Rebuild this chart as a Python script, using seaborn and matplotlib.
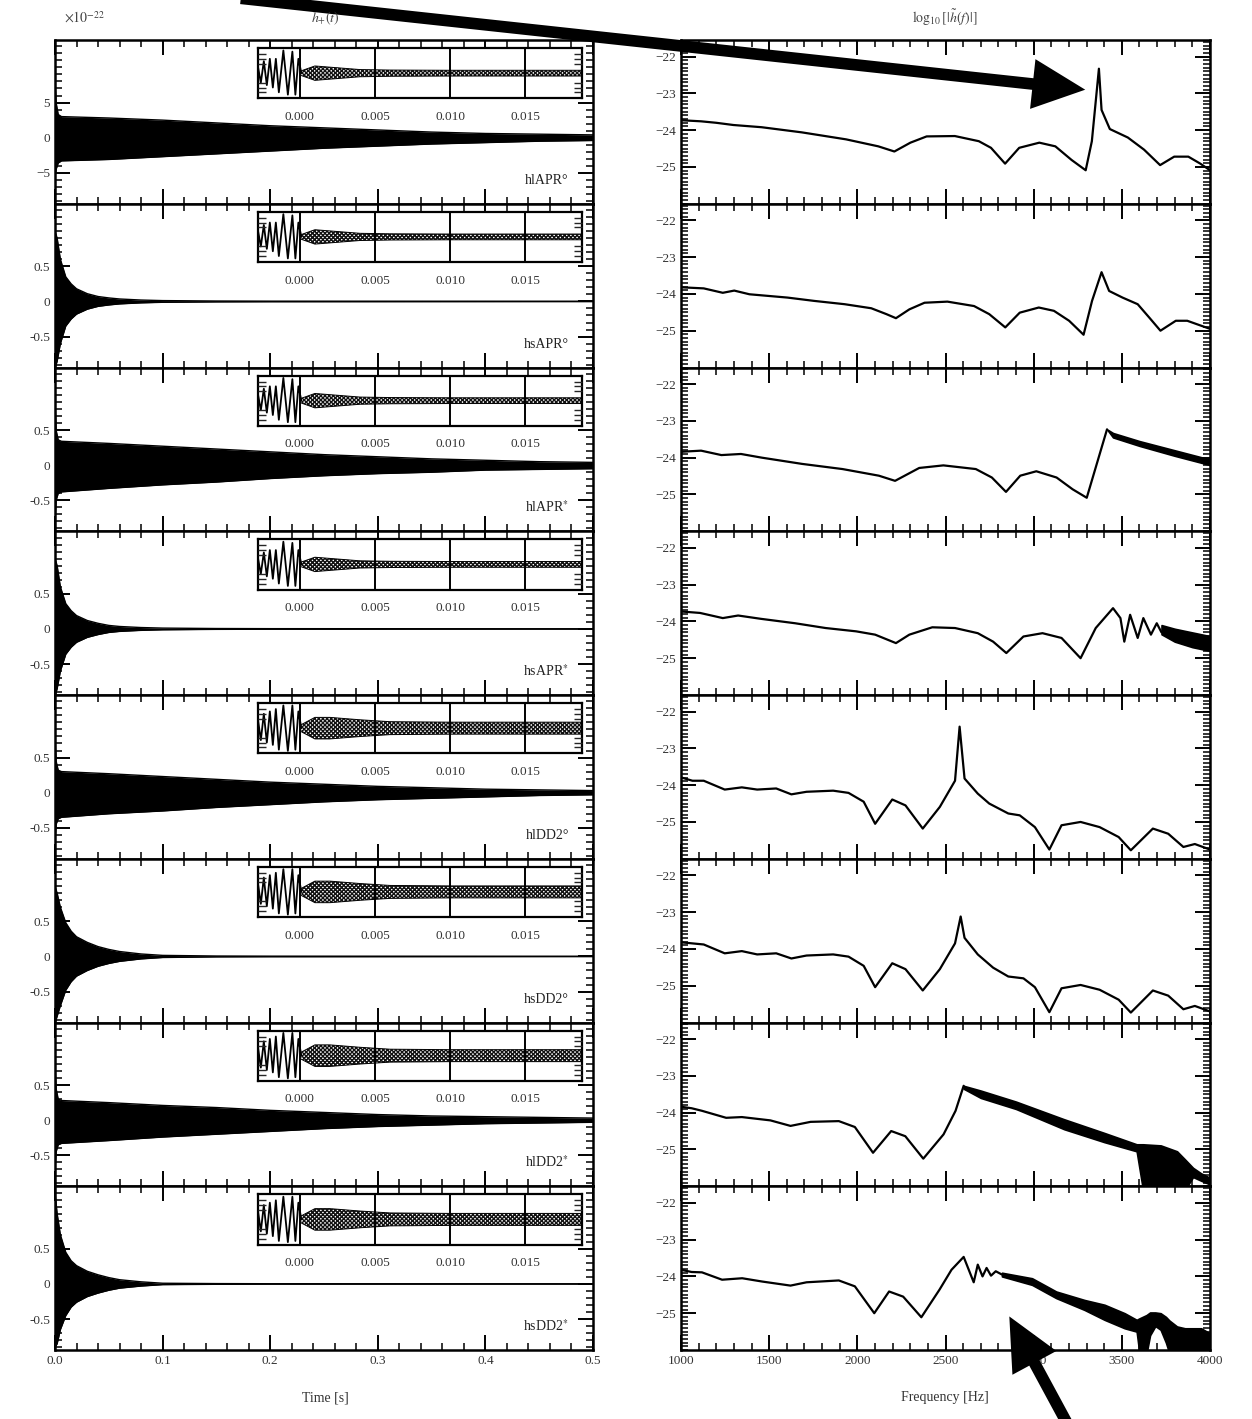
import numpy as np
import pandas as pd
import matplotlib
matplotlib.use("Agg")
import matplotlib.pyplot as plt
import seaborn as sns
from matplotlib.ticker import MultipleLocator, FixedLocator
from matplotlib.patches import FancyArrowPatch

# ---------------- data ----------------
labels = ["hlAPR°", "hsAPR°", "hlAPR$^{*}$", "hsAPR$^{*}$",
          "hlDD2°", "hsDD2°", "hlDD2$^{*}$", "hsDD2$^{*}$"]

time_ticks = [0.0, 0.1, 0.2, 0.3, 0.4, 0.5]
time_ticklabels = ["0.0", "0.1", "0.2", "0.3", "0.4", "0.5"]
freq_ticks = [1000, 1500, 2000, 2500, 3000, 3500, 4000]
freq_ticklabels = ["1000", "1500", "2000", "2500", "3000", "3500", "4000"]

# time-domain envelopes (units of 1e-21)
t_long = [0, 0.001, 0.003, 0.006, 0.05, 0.1, 0.15, 0.2, 0.25, 0.3, 0.35, 0.4, 0.45, 0.5]
t_short = [0, 0.002, 0.005, 0.01, 0.015, 0.02, 0.03, 0.04, 0.05, 0.06, 0.08, 0.1, 0.15, 0.2, 0.5]

env_hlAPR_o_up = [0.83, 0.5, 0.33, 0.30, 0.28, 0.25, 0.21, 0.17, 0.14, 0.11, 0.08, 0.06, 0.05, 0.04]
env_hlAPR_o_lo = [-0.55, -0.45, -0.36, -0.33, -0.31, -0.27, -0.23, -0.19, -0.15, -0.12, -0.09, -0.07, -0.05, -0.04]
env_hsAPR_o_up = [1.0, 0.9, 0.6, 0.35, 0.25, 0.18, 0.11, 0.07, 0.05, 0.035, 0.02, 0.012, 0.006, 0.004, 0.002]
env_hsAPR_o_lo = [-0.95, -0.85, -0.6, -0.35, -0.25, -0.18, -0.11, -0.07, -0.05, -0.035, -0.02, -0.012, -0.006, -0.004, -0.002]
env_hlAPR_s_up = [0.94, 0.5, 0.36, 0.34, 0.31, 0.27, 0.23, 0.19, 0.15, 0.12, 0.09, 0.07, 0.05, 0.04]
env_hlAPR_s_lo = [-0.8, -0.5, -0.4, -0.38, -0.33, -0.28, -0.24, -0.19, -0.15, -0.12, -0.1, -0.07, -0.06, -0.05]
env_hsAPR_s_up = [1.0, 0.9, 0.6, 0.36, 0.26, 0.19, 0.12, 0.08, 0.05, 0.035, 0.02, 0.012, 0.006, 0.004, 0.002]
env_hsAPR_s_lo = [-0.95, -0.85, -0.6, -0.36, -0.26, -0.19, -0.12, -0.08, -0.05, -0.035, -0.02, -0.012, -0.006, -0.004, -0.002]
env_hlDD2_o_up = [0.8, 0.45, 0.32, 0.3, 0.27, 0.23, 0.19, 0.15, 0.12, 0.09, 0.07, 0.05, 0.04, 0.03]
env_hlDD2_o_lo = [-0.7, -0.45, -0.37, -0.35, -0.3, -0.26, -0.21, -0.17, -0.13, -0.1, -0.08, -0.06, -0.04, -0.03]
env_hsDD2_o_up = [1.0, 0.9, 0.7, 0.48, 0.36, 0.28, 0.2, 0.14, 0.1, 0.07, 0.035, 0.015, 0.006, 0.004, 0.002]
env_hsDD2_o_lo = [-0.95, -0.85, -0.7, -0.48, -0.36, -0.28, -0.2, -0.14, -0.1, -0.07, -0.035, -0.015, -0.006, -0.004, -0.002]
env_hlDD2_s_up = [0.8, 0.45, 0.3, 0.28, 0.25, 0.21, 0.18, 0.14, 0.11, 0.08, 0.06, 0.05, 0.04, 0.03]
env_hlDD2_s_lo = [-0.7, -0.45, -0.35, -0.33, -0.29, -0.24, -0.2, -0.16, -0.12, -0.09, -0.07, -0.05, -0.04, -0.03]
env_hsDD2_s_up = [1.3, 1.0, 0.7, 0.45, 0.33, 0.26, 0.18, 0.13, 0.09, 0.06, 0.03, 0.01, 0.005, 0.003, 0.002]
env_hsDD2_s_lo = [-0.9, -0.85, -0.65, -0.45, -0.33, -0.26, -0.18, -0.13, -0.09, -0.06, -0.03, -0.01, -0.005, -0.003, -0.002]

# inset: merger oscillation and post-merger envelope (normalised)
t_merger = [-0.0028, -0.0026, -0.0024, -0.0022, -0.0020, -0.0018, -0.0016, -0.0014,
            -0.0011, -0.0008, -0.0005, -0.0003, -0.0001, 0.0001]
h_merger_apr = [0.3, -0.4, 0.5, -0.5, 0.6, -0.6, 0.6, -0.8, 0.95, -0.9, 0.9, -0.9, 0.6, 0.0]
h_merger_dd2 = [0.4, -0.5, 0.6, -0.6, 0.7, -0.7, 0.8, -0.9, 0.95, -0.95, 0.95, -0.9, 0.7, 0.0]
t_post = [0.0001, 0.001, 0.002, 0.003, 0.004, 0.006, 0.01, 0.0189]
amp_post_apr = [0.1, 0.3, 0.25, 0.2, 0.15, 0.13, 0.12, 0.12]
amp_post_dd2 = [0.15, 0.45, 0.45, 0.4, 0.35, 0.27, 0.25, 0.25]

# spectra log10|h(f)|
f1 = [1000, 1114, 1200, 1297, 1457, 1685, 1936, 2119, 2210, 2301, 2393, 2553, 2689, 2758, 2838, 2918,
      3032, 3123, 3215, 3295, 3330, 3370, 3385, 3432, 3534, 3626, 3717, 3797, 3877, 3945, 4000]
v1 = [-23.73, -23.76, -23.80, -23.86, -23.92, -24.06, -24.25, -24.44, -24.58, -24.34, -24.17, -24.16,
      -24.30, -24.48, -24.91, -24.48, -24.34, -24.44, -24.81, -25.09, -24.3, -22.33, -23.45, -23.97,
      -24.20, -24.53, -24.95, -24.72, -24.72, -24.91, -25.09]
f2 = [1000, 1129, 1237, 1302, 1388, 1604, 1755, 1928, 2079, 2165, 2219, 2295, 2381, 2511, 2662, 2748,
      2839, 2921, 3029, 3115, 3201, 3283, 3331, 3385, 3428, 3504, 3590, 3655, 3719, 3806, 3871, 4000]
v2 = [-23.82, -23.85, -23.97, -23.91, -24.01, -24.10, -24.19, -24.28, -24.39, -24.55, -24.66, -24.42,
      -24.24, -24.21, -24.33, -24.55, -24.91, -24.51, -24.37, -24.46, -24.73, -25.11, -24.19, -23.41,
      -23.92, -24.10, -24.28, -24.64, -25.00, -24.73, -24.73, -24.95]
f3 = [1000, 1114, 1229, 1340, 1458, 1687, 1916, 2122, 2214, 2351, 2488, 2672, 2763, 2843, 2924, 3015,
      3130, 3221, 3301, 3416]
v3 = [-23.84, -23.81, -23.93, -23.90, -24.00, -24.17, -24.31, -24.49, -24.63, -24.28, -24.21, -24.31,
      -24.54, -24.93, -24.49, -24.37, -24.54, -24.86, -25.09, -23.23]
f3_band = [3416, 3450, 3600, 3800, 4000]
v3_up = [-23.23, -23.33, -23.55, -23.80, -24.05]
v3_lo = [-23.23, -23.45, -23.68, -23.95, -24.20]
f4 = [1000, 1108, 1237, 1324, 1453, 1647, 1820, 1993, 2101, 2219, 2295, 2425, 2554, 2683, 2770, 2845,
      2942, 3050, 3158, 3266, 3352, 3450, 3492, 3514, 3547, 3590, 3622, 3665, 3698, 3725]
v4 = [-23.73, -23.77, -23.91, -23.84, -23.93, -24.05, -24.18, -24.27, -24.36, -24.59, -24.36, -24.16,
      -24.18, -24.32, -24.55, -24.86, -24.41, -24.32, -24.45, -25.00, -24.18, -23.64, -23.91, -24.55,
      -23.82, -24.45, -23.91, -24.36, -24.05, -24.30]
f4_band = [3725, 3800, 3900, 4000]
v4_up = [-24.10, -24.20, -24.30, -24.40]
v4_lo = [-24.35, -24.55, -24.70, -24.80]
f5 = [1000, 1065, 1129, 1248, 1345, 1432, 1540, 1626, 1712, 1863, 1950, 2036, 2101, 2198, 2273, 2371,
      2468, 2554, 2580, 2608, 2683, 2748, 2856, 2921, 3007, 3089, 3158, 3266, 3374, 3482, 3551, 3676,
      3763, 3849, 3914, 4000]
v5 = [-23.79, -23.88, -23.88, -24.12, -24.06, -24.12, -24.09, -24.25, -24.18, -24.15, -24.21, -24.45,
      -25.05, -24.39, -24.55, -25.18, -24.59, -23.88, -22.41, -23.82, -24.23, -24.50, -24.77, -24.82,
      -25.14, -25.75, -25.09, -25.00, -25.14, -25.41, -25.77, -25.18, -25.32, -25.68, -25.60, -25.75]
f6 = [1000, 1129, 1248, 1345, 1432, 1540, 1626, 1712, 1863, 1950, 2036, 2101, 2198, 2273, 2371, 2468,
      2554, 2586, 2608, 2683, 2770, 2856, 2942, 3007, 3089, 3158, 3266, 3374, 3482, 3551, 3676, 3763,
      3849, 3914, 4000]
v6 = [-23.82, -23.88, -24.12, -24.06, -24.15, -24.12, -24.26, -24.18, -24.15, -24.21, -24.46, -25.04,
      -24.39, -24.55, -25.13, -24.55, -23.85, -23.12, -23.70, -24.15, -24.51, -24.75, -24.80, -25.04,
      -25.72, -25.07, -24.98, -25.11, -25.38, -25.73, -25.13, -25.27, -25.64, -25.55, -25.70]
f7 = [1000, 1060, 1119, 1256, 1345, 1507, 1621, 1735, 1895, 1986, 2089, 2192, 2272, 2374, 2489, 2557, 2603]
v7 = [-23.84, -23.88, -23.95, -24.14, -24.12, -24.21, -24.36, -24.25, -24.23, -24.39, -25.09, -24.50,
      -24.64, -25.25, -24.59, -23.95, -23.27]
f7_band = [2603, 2700, 2900, 3173, 3400, 3584, 3620, 3721, 3813, 3858, 3904, 3950, 4000]
v7_up = [-23.27, -23.40, -23.70, -24.18, -24.55, -24.86, -24.86, -24.89, -25.05, -25.27, -25.50, -25.65, -25.77]
v7_lo = [-23.35, -23.60, -23.90, -24.45, -24.80, -25.05, -26.10, -26.10, -26.10, -26.10, -25.75, -25.85, -25.95]
f8 = [1000, 1060, 1119, 1233, 1347, 1461, 1621, 1712, 1895, 1986, 2096, 2180, 2260, 2363, 2466, 2534,
      2603, 2660, 2683, 2710, 2733, 2758, 2785, 2820]
v8 = [-23.82, -23.88, -23.89, -24.09, -24.05, -24.14, -24.25, -24.16, -24.11, -24.27, -25.00, -24.41,
      -24.55, -25.11, -24.36, -23.82, -23.47, -24.16, -23.68, -24.00, -23.77, -23.98, -23.86, -23.95]
f8_band = [2820, 2991, 3128, 3288, 3402, 3516, 3584, 3600, 3640, 3660, 3690, 3720, 3750, 3770, 3813,
           3858, 3950, 4000]
v8_up = [-23.90, -24.05, -24.41, -24.64, -24.77, -25.00, -25.18, -25.14, -25.05, -24.98, -24.98, -25.00,
         -25.10, -25.20, -25.36, -25.41, -25.41, -25.55]
v8_lo = [-24.00, -24.23, -24.59, -24.91, -25.18, -25.41, -25.50, -26.10, -26.10, -25.60, -25.35, -25.45,
         -25.80, -26.10, -26.10, -26.10, -26.10, -26.10]

# ---------------- style ----------------
sns.set_theme(style="ticks")
plt.rcParams["font.family"] = ["Liberation Serif", "DejaVu Serif"]
plt.rcParams["mathtext.fontset"] = "stix"
plt.rcParams["hatch.linewidth"] = 1.0
plt.rcParams["axes.linewidth"] = 1.8

W, H = 1252, 1419
fig = plt.figure(figsize=(W / 100, H / 100), dpi=100)
fig.patch.set_facecolor("white")

top = 1 - 40 / H
bottom = 1 - 1350 / H
gsL = fig.add_gridspec(8, 1, left=55 / W, right=593 / W, top=top, bottom=bottom, hspace=0)
gsR = fig.add_gridspec(8, 1, left=681 / W, right=1210 / W, top=top, bottom=bottom, hspace=0)

tick_col = "#333333"


def style_ticks(ax):
    ax.tick_params(which="both", direction="in", top=True, right=True, colors="black",
                   labelcolor=tick_col, labelsize=9.5)
    ax.tick_params(which="major", length=11, width=1.4)
    ax.tick_params(which="minor", length=5, width=1.1)
    for s in ax.spines.values():
        s.set_linewidth(1.8)
        s.set_color("black")


left_env = [
    (t_long, env_hlAPR_o_up, env_hlAPR_o_lo),
    (t_short, env_hsAPR_o_up, env_hsAPR_o_lo),
    (t_long, env_hlAPR_s_up, env_hlAPR_s_lo),
    (t_short, env_hsAPR_s_up, env_hsAPR_s_lo),
    (t_long, env_hlDD2_o_up, env_hlDD2_o_lo),
    (t_short, env_hsDD2_o_up, env_hsDD2_o_lo),
    (t_long, env_hlDD2_s_up, env_hlDD2_s_lo),
    (t_short, env_hsDD2_s_up, env_hsDD2_s_lo),
]

for i in range(8):
    ax = fig.add_subplot(gsL[i])
    tt, up, lo = left_env[i]
    df = pd.DataFrame({"t": tt + tt, "h": up + lo, "side": ["u"] * len(tt) + ["l"] * len(tt)})
    sns.lineplot(data=df, x="t", y="h", units="side", estimator=None, color="black", lw=1.0, ax=ax,
                 legend=False)
    ax.fill_between(tt, lo, up, color="black", lw=0)
    ax.set_xlim(0, 0.5)
    ax.set_ylim(-0.94, 1.39)
    ax.xaxis.set_major_locator(FixedLocator(time_ticks))
    ax.xaxis.set_minor_locator(MultipleLocator(0.02))
    ax.yaxis.set_major_locator(FixedLocator([-0.5, 0, 0.5]))
    ax.yaxis.set_minor_locator(MultipleLocator(0.1))
    if i == 0:
        ax.set_yticklabels(["\u22125", "0", "5"])
    else:
        ax.set_yticklabels(["-0.5", "0", "0.5"])
    style_ticks(ax)
    ax.set_xlabel("")
    ax.set_ylabel("")
    if i < 7:
        ax.tick_params(labelbottom=False)
    else:
        ax.set_xticklabels(time_ticklabels)
    ax.text(0.955, 0.1, labels[i], transform=ax.transAxes, ha="right", va="bottom",
            fontsize=10, color="#222222")

    # inset
    axin = ax.inset_axes([0.377, 0.644, 0.603, 0.307])
    merger = h_merger_apr if i < 4 else h_merger_dd2
    amp = amp_post_apr if i < 4 else amp_post_dd2
    sns.lineplot(x=t_merger, y=merger, color="black", lw=1.3, ax=axin, sort=False, estimator=None)
    up_in = list(amp)
    lo_in = [-a for a in amp]
    axin.fill_between(t_post, lo_in, up_in, facecolor="white", edgecolor="#111111", hatch="xxxxxxxx", lw=0)
    sns.lineplot(x=t_post, y=up_in, color="black", lw=0.7, ax=axin)
    sns.lineplot(x=t_post, y=lo_in, color="black", lw=0.7, ax=axin)
    axin.set_xlim(-0.0028, 0.0188)
    axin.set_ylim(-1.05, 1.05)
    axin.set_xticks([0.0, 0.005, 0.010, 0.015])
    axin.set_xticklabels(["0.000", "0.005", "0.010", "0.015"])
    axin.set_yticks([-0.8, -0.6, -0.4, 0.4, 0.6, 0.8])
    axin.set_yticklabels([])
    axin.tick_params(axis="x", length=0, pad=9, labelsize=9.5, labelcolor=tick_col)
    axin.tick_params(axis="y", direction="in", left=True, right=True, length=6, width=1.0)
    axin.grid(axis="x", color="black", lw=1.4)
    axin.set_axisbelow(False)
    for s in axin.spines.values():
        s.set_linewidth(1.6)
        s.set_color("black")

spec_lines = [(f1, v1), (f2, v2), (f3, v3), (f4, v4), (f5, v5), (f6, v6), (f7, v7), (f8, v8)]
spec_bands = {2: (f3_band, v3_up, v3_lo), 3: (f4_band, v4_up, v4_lo),
              6: (f7_band, v7_up, v7_lo), 7: (f8_band, v8_up, v8_lo)}

for i in range(8):
    ax = fig.add_subplot(gsR[i])
    ff, vv = spec_lines[i]
    sns.lineplot(x=ff, y=vv, color="black", lw=1.6, ax=ax, sort=False, estimator=None)
    if i in spec_bands:
        fb, bu, bl = spec_bands[i]
        ax.fill_between(fb, bl, bu, color="black", lw=1.2)
    ax.set_xlim(1000, 4000)
    ax.set_ylim(-26.0, -21.55)
    ax.xaxis.set_major_locator(FixedLocator(freq_ticks))
    ax.xaxis.set_minor_locator(MultipleLocator(100))
    ax.yaxis.set_major_locator(FixedLocator([-25, -24, -23, -22]))
    ax.yaxis.set_minor_locator(MultipleLocator(0.1))
    ax.set_yticklabels(["\u221225", "\u221224", "\u221223", "\u221222"])
    style_ticks(ax)
    ax.set_xlabel("")
    ax.set_ylabel("")
    if i < 7:
        ax.tick_params(labelbottom=False)
    else:
        ax.set_xticklabels(freq_ticklabels)

# titles and axis labels
fig.text(325 / W, 1 - 18 / H, r"$h_{+}(t)$", ha="center", va="center", fontsize=10, color="#444444")
fig.text(945 / W, 1 - 18 / H, r"$\log_{10}[|\tilde{h}(f)|]$", ha="center", va="center", fontsize=10,
         color="#444444")
fig.text(85 / W, 1 - 18 / H, r"$\times10^{-22}$", ha="center", va="center", fontsize=10, color="#444444")
fig.text(325 / W, 1 - 1398 / H, "Time [s]", ha="center", va="center", fontsize=10, color="#333333")
fig.text(945 / W, 1 - 1398 / H, "Frequency [Hz]", ha="center", va="center", fontsize=10, color="#333333")

# annotation arrows (figure pixel coords)
arrow_style = "simple,head_length=1.9,head_width=1.8,tail_width=0.42"
a1 = FancyArrowPatch((238 / W, 1 + 2 / H), (1088 / W, 1 - 90 / H), transform=fig.transFigure,
                     arrowstyle=arrow_style, mutation_scale=20, color="black", lw=0)
a2 = FancyArrowPatch((1068 / W, 1 - 1425 / H), (1008 / W, 1 - 1314 / H), transform=fig.transFigure,
                     arrowstyle=arrow_style, mutation_scale=20, color="black", lw=0)
fig.add_artist(a1)
fig.add_artist(a2)

fig.savefig("out.png", dpi=100, facecolor="white")
